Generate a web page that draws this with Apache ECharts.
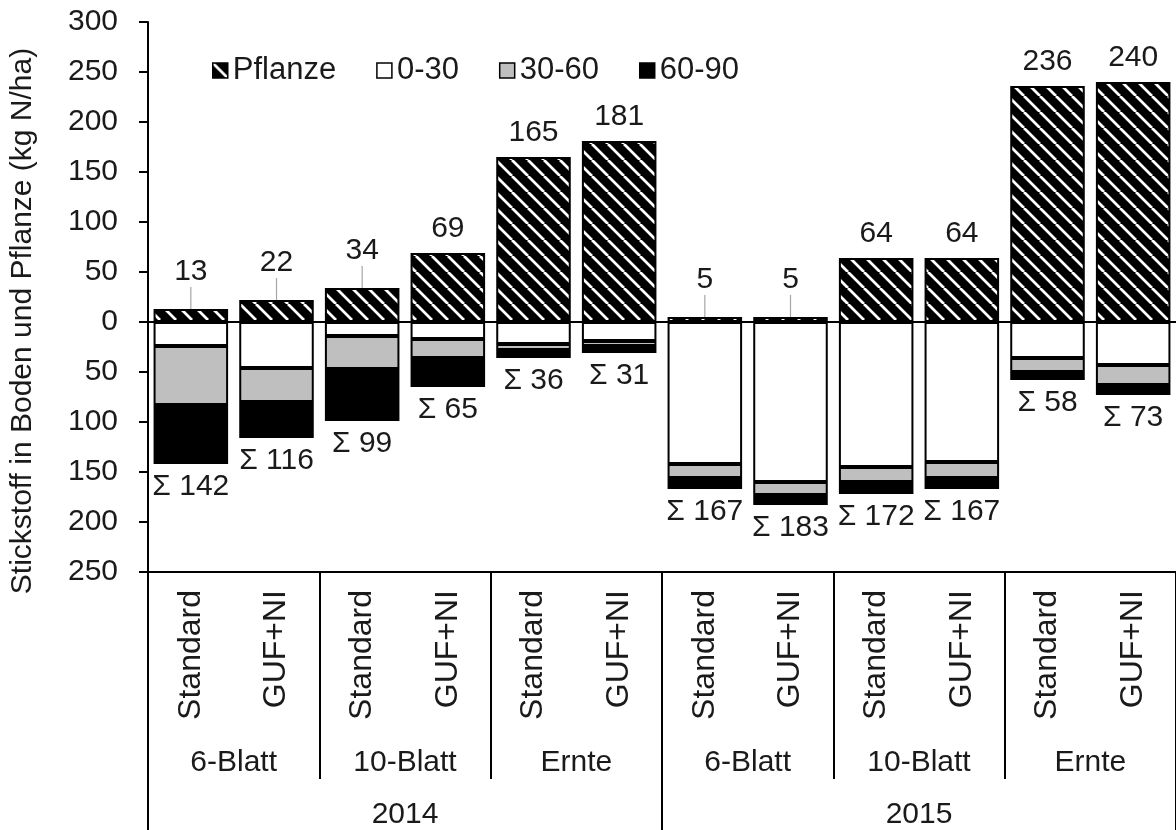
<!DOCTYPE html>
<html>
<head>
<meta charset="utf-8">
<script src="https://cdn.jsdelivr.net/npm/echarts@6/dist/echarts.min.js"></script>
<style>html,body{margin:0;padding:0;background:#fff}#c{width:1176px;height:830px}</style>
</head>
<body>
<div id="c"></div>
<script>
const treatments = ['Standard','GUF+NI','Standard','GUF+NI','Standard','GUF+NI','Standard','GUF+NI','Standard','GUF+NI','Standard','GUF+NI'];
const stages = ['6-Blatt','10-Blatt','Ernte','6-Blatt','10-Blatt','Ernte'];
const years = ['2014','2015'];
const pflanze = [13, 22, 34, 69, 165, 181, 5, 5, 64, 64, 236, 240];
const soil0_30 = [24, 46, 14, 17, 22, 19, 142, 160, 145, 140, 36, 43];
const soil30_60 = [59, 34, 33, 19, 6, 5, 14, 13, 15, 16, 14, 20];
const soil60_90 = [59, 36, 52, 29, 8, 7, 11, 10, 12, 11, 8, 10];
const yTicks = {min: -250, max: 300, interval: 50};

const FONT = "'Liberation Sans', Arial, sans-serif";
const TXT = '#1a1a1a';

// hatch pattern
const pc = document.createElement('canvas');
pc.width = 16; pc.height = 16;
const ctx = pc.getContext('2d');
ctx.fillStyle = '#000'; ctx.fillRect(0,0,16,16);
ctx.strokeStyle = '#fff'; ctx.lineWidth = 2.8;
ctx.beginPath();
for (const k of [-16, 0, 16]) { ctx.moveTo(k, 0); ctx.lineTo(k + 16, 16); }
ctx.stroke();
const hatch = {image: pc, repeat: 'repeat'};

const chart = echarts.init(document.getElementById('c'), null, {renderer: 'canvas'});
const border = {borderColor: '#000', borderWidth: 2};
const isSmall = v => v < 50;

const option = {
  animation: false,
  textStyle: {fontFamily: FONT},
  grid: {left: 148, right: -5, top: 22, bottom: 258},
  legend: {
    left: 212, top: 55, padding: 0, itemWidth: 15, itemHeight: 15, itemGap: 40,
    icon: 'rect',
    itemStyle: {borderColor: '#000', borderWidth: 1.5},
    textStyle: {fontSize: 31, color: TXT, fontFamily: FONT},
    data: ['Pflanze', '0-30', '30-60', '60-90']
  },
  xAxis: [
    {
      type: 'category', data: treatments, position: 'bottom',
      axisLine: {onZero: false, lineStyle: {color: '#000', width: 2}},
      axisTick: {show: false},
      axisLabel: {rotate: 90, margin: 18, fontSize: 32, color: TXT, fontFamily: FONT, interval: 0}
    },
    {
      type: 'category', data: stages, position: 'bottom',
      axisLine: {show: false, onZero: false},
      axisTick: {show: true, length: 207, lineStyle: {color: '#000', width: 2}},
      axisLabel: {margin: 176, fontSize: 30, color: TXT, fontFamily: FONT, interval: 0}
    },
    {
      type: 'category', data: years, position: 'bottom',
      axisLine: {show: false, onZero: false},
      axisTick: {show: true, length: 270, lineStyle: {color: '#000', width: 2}},
      axisLabel: {margin: 228, fontSize: 30, color: TXT, fontFamily: FONT, interval: 0}
    }
  ],
  yAxis: {
    type: 'value', min: yTicks.min, max: yTicks.max, interval: yTicks.interval,
    name: 'Stickstoff in Boden und Pflanze (kg N/ha)',
    nameLocation: 'middle', nameGap: 110,
    nameTextStyle: {fontSize: 30, color: TXT, fontFamily: FONT, padding: [0, 48, 0, 0]},
    axisLine: {show: true, lineStyle: {color: '#000', width: 2}},
    axisTick: {show: true, length: 9, lineStyle: {color: '#000', width: 2}},
    splitLine: {show: false},
    axisLabel: {margin: 30, fontSize: 30, color: TXT, fontFamily: FONT, formatter: v => String(Math.abs(v))}
  },
  series: [
    {
      name: 'Pflanze', type: 'bar', stack: 'n', barCategoryGap: '13%',
      data: pflanze.map(v => ({value: v, labelLine: {show: isSmall(v)}})),
      itemStyle: Object.assign({color: hatch}, border),
      label: {show: true, position: 'top', distance: 9, fontSize: 30, color: TXT, fontFamily: FONT},
      labelLayout: p => (isSmall(pflanze[p.dataIndex]) ? {dy: -13} : {}),
      labelLine: {lineStyle: {color: '#a6a6a6', width: 1.2}},
      markLine: {
        silent: true, symbol: 'none', label: {show: false},
        lineStyle: {color: '#000', width: 2, type: 'solid'},
        data: [{yAxis: 0}]
      }
    },
    {
      name: '0-30', type: 'bar', stack: 'n',
      data: soil0_30.map(v => -v),
      itemStyle: Object.assign({color: '#ffffff'}, border)
    },
    {
      name: '30-60', type: 'bar', stack: 'n',
      data: soil30_60.map(v => -v),
      itemStyle: Object.assign({color: '#bfbfbf'}, border)
    },
    {
      name: '60-90', type: 'bar', stack: 'n',
      data: soil60_90.map(v => -v),
      itemStyle: Object.assign({color: '#000000'}, border),
      label: {
        show: true, position: 'outside', distance: 8, fontSize: 30, color: TXT, fontFamily: FONT,
        formatter: p => 'Σ ' + (soil0_30[p.dataIndex] + soil30_60[p.dataIndex] + soil60_90[p.dataIndex])
      }
    }
  ]
};
chart.setOption(option);
</script>
</body>
</html>
